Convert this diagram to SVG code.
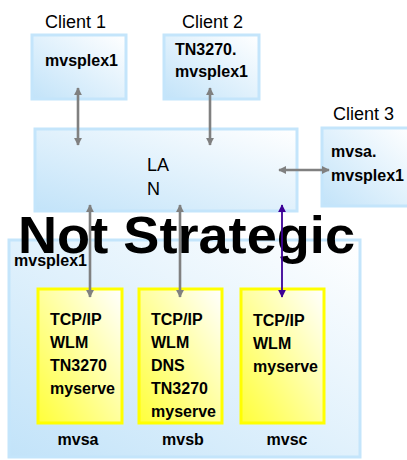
<svg xmlns="http://www.w3.org/2000/svg" width="407" height="460" viewBox="0 0 407 460">
  <defs>
    <linearGradient id="blueFill" x1="0" y1="1" x2="1" y2="0">
      <stop offset="0" stop-color="#c2e3f9"/>
      <stop offset="1" stop-color="#ffffff"/>
    </linearGradient>
    <linearGradient id="yellowFill" x1="0" y1="1" x2="1" y2="0">
      <stop offset="0" stop-color="#ffff3a"/>
      <stop offset="1" stop-color="#ffffff"/>
    </linearGradient>
    <marker id="headGray" viewBox="0 0 10 10" refX="9" refY="5" markerWidth="3.2" markerHeight="3.2" orient="auto-start-reverse" markerUnits="strokeWidth">
      <path d="M0,0 L10,5 L0,10 Z" fill="#808080"/>
    </marker>
    <marker id="headPurple" viewBox="0 0 10 10" refX="9" refY="5" markerWidth="4.5" markerHeight="4.5" orient="auto-start-reverse" markerUnits="strokeWidth">
      <path d="M0,0 L10,5 L0,10 Z" fill="#3c0096"/>
    </marker>
  </defs>
  <style>
    .box { fill: url(#blueFill); stroke: #c4e5fb; stroke-width: 3; }
    .sys { fill: url(#yellowFill); stroke: #ffff00; stroke-width: 3; }
    .title { font-family: "Liberation Sans", Arial, sans-serif; font-size: 18px; fill: #000; }
    .lbl { font-family: "Liberation Sans", Arial, sans-serif; font-size: 16px; font-weight: bold; fill: #000; }
    .mid { text-anchor: middle; }
    .stamp { font-family: "Liberation Sans", Arial, sans-serif; font-size: 52px; font-weight: bold; fill: #000; }
    .gray { stroke: #808080; stroke-width: 2.6; fill: none; marker-start: url(#headGray); marker-end: url(#headGray); }
    .purple { stroke: #3c0096; stroke-width: 1.8; fill: none; marker-start: url(#headPurple); marker-end: url(#headPurple); }
  </style>

  <!-- sysplex container -->
  <g id="sysplex">
    <rect class="box" x="9" y="240" width="351" height="217"/>
    <text class="lbl" x="14" y="266">mvsplex1</text>
  </g>

  <!-- clients -->
  <g id="client1">
    <text class="title" x="45" y="28">Client 1</text>
    <rect class="box" x="32" y="35" width="94" height="64"/>
    <text class="lbl" x="45" y="66">mvsplex1</text>
  </g>
  <g id="client2">
    <text class="title" x="182" y="28">Client 2</text>
    <rect class="box" x="164" y="35" width="95" height="64"/>
    <text class="lbl" x="175" y="55">TN3270.</text>
    <text class="lbl" x="175" y="77">mvsplex1</text>
  </g>
  <g id="client3">
    <text class="title" x="333" y="120">Client 3</text>
    <rect class="box" x="322" y="128" width="90" height="78"/>
    <text class="lbl" x="331" y="157">mvsa.</text>
    <text class="lbl" x="331" y="181">mvsplex1</text>
  </g>

  <!-- LAN -->
  <g id="lan">
    <rect class="box" x="35" y="129" width="262" height="82"/>
    <text class="title" x="147" y="171">LA</text>
    <text class="title" x="147" y="195">N</text>
  </g>

  <!-- systems -->
  <g id="mvsa">
    <rect class="sys" x="38" y="289" width="84" height="134"/>
    <text class="lbl" x="50" y="325">TCP/IP</text>
    <text class="lbl" x="50" y="348">WLM</text>
    <text class="lbl" x="50" y="371">TN3270</text>
    <text class="lbl" x="50" y="394">myserve</text>
    <text class="lbl mid" x="78" y="445">mvsa</text>
  </g>
  <g id="mvsb">
    <rect class="sys" x="139" y="289" width="83" height="134"/>
    <text class="lbl" x="151" y="325">TCP/IP</text>
    <text class="lbl" x="151" y="348">WLM</text>
    <text class="lbl" x="151" y="371">DNS</text>
    <text class="lbl" x="151" y="394">TN3270</text>
    <text class="lbl" x="151" y="417">myserve</text>
    <text class="lbl mid" x="183" y="445">mvsb</text>
  </g>
  <g id="mvsc">
    <rect class="sys" x="241" y="289" width="83" height="134"/>
    <text class="lbl" x="253" y="326">TCP/IP</text>
    <text class="lbl" x="253" y="349">WLM</text>
    <text class="lbl" x="253" y="372">myserve</text>
    <text class="lbl mid" x="287" y="445">mvsc</text>
  </g>

  <!-- status stamp -->
  <g id="stamp">
    <text class="stamp" x="18" y="253" textLength="337" lengthAdjust="spacingAndGlyphs">Not Strategic</text>
  </g>

  <!-- connectors -->
  <g id="connectors">
    <line class="gray" x1="78" y1="88" x2="78" y2="145"/>
    <line class="gray" x1="210" y1="88" x2="210" y2="145"/>
    <line class="gray" x1="279" y1="170" x2="329" y2="170"/>
    <line class="gray" x1="90" y1="205" x2="90" y2="297"/>
    <line class="gray" x1="180" y1="205" x2="180" y2="297"/>
    <line class="purple" x1="282" y1="205" x2="282" y2="297"/>
  </g>
</svg>
